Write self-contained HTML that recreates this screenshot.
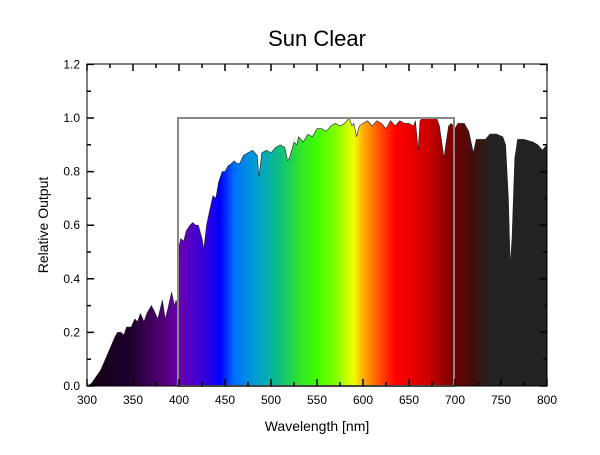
<!DOCTYPE html>
<html><head><style>body{margin:0;background:#fff}</style></head><body>
<svg width="600" height="450" xmlns="http://www.w3.org/2000/svg" font-family="Liberation Sans, Arial, sans-serif">
<defs>
<linearGradient id="g" gradientUnits="userSpaceOnUse" x1="87" y1="0" x2="547" y2="0">
<stop offset="0" stop-color="#100010"/>
<stop offset="0.1" stop-color="#200030"/>
<stop offset="0.16" stop-color="#500070"/>
<stop offset="0.2" stop-color="#6a00b0"/>
<stop offset="0.26" stop-color="#3000e0"/>
<stop offset="0.29" stop-color="#0000ff"/>
<stop offset="0.32" stop-color="#0070ff"/>
<stop offset="0.37" stop-color="#00a0d0"/>
<stop offset="0.42" stop-color="#10c080"/>
<stop offset="0.46" stop-color="#30e030"/>
<stop offset="0.5" stop-color="#40ff00"/>
<stop offset="0.54" stop-color="#80ff00"/>
<stop offset="0.58" stop-color="#f0ff00"/>
<stop offset="0.6" stop-color="#ffb000"/>
<stop offset="0.63" stop-color="#ff6000"/>
<stop offset="0.67" stop-color="#ff0000"/>
<stop offset="0.74" stop-color="#d00000"/>
<stop offset="0.8" stop-color="#700000"/>
<stop offset="0.84" stop-color="#401010"/>
<stop offset="0.88" stop-color="#222"/>
<stop offset="1" stop-color="#222"/>
</linearGradient>
</defs>
<text x="317" y="46" font-size="22" text-anchor="middle">Sun Clear</text>
<g id="spec"></g>
<rect x="178" y="118" width="276" height="268" fill="none" stroke="#888" stroke-width="2"/>
<rect x="87" y="64" width="460" height="322" fill="none" stroke="#000" stroke-width="1"/>
<g id="ticks" stroke="#000"></g>
<g font-size="12" text-anchor="end" id="yl"></g>
<g font-size="12" text-anchor="middle" id="xl"></g>
<text x="317" y="431" font-size="14" text-anchor="middle">Wavelength [nm]</text>
<text transform="translate(48,225) rotate(-90)" font-size="14" text-anchor="middle">Relative Output</text>
</svg>
<script>
var d=[[300,0],[305,0.01],[315,0.06],[320,0.1],[325,0.14],[330,0.18],[333,0.2],[337,0.2],[340,0.19],[343,0.22],[348,0.22],[352,0.25],[355,0.24],[358,0.27],[362,0.24],[365,0.27],[370,0.3],[373,0.28],[377,0.25],[382,0.32],[385,0.25],[388,0.29],[392,0.35],[395,0.3],[397,0.32],[399,0.28],[400,0.52],[402,0.55],[405,0.54],[408,0.58],[412,0.6],[415,0.61],[418,0.6],[421,0.6],[425,0.55],[427,0.51],[430,0.6],[433,0.65],[437,0.71],[440,0.7],[443,0.76],[447,0.8],[450,0.8],[453,0.82],[457,0.83],[460,0.84],[463,0.83],[466,0.83],[470,0.86],[475,0.87],[480,0.88],[485,0.86],[487,0.78],[490,0.87],[495,0.88],[500,0.87],[505,0.89],[510,0.9],[515,0.89],[518,0.84],[520,0.85],[525,0.91],[528,0.9],[530,0.93],[535,0.91],[540,0.94],[545,0.93],[550,0.96],[555,0.96],[560,0.95],[565,0.97],[570,0.98],[575,0.97],[580,0.98],[585,1.0],[588,0.97],[590,0.98],[593,0.93],[596,0.97],[600,0.98],[605,0.99],[610,0.97],[615,0.99],[620,0.98],[625,0.96],[630,0.99],[635,0.97],[640,0.99],[645,0.98],[650,0.98],[655,0.97],[657,0.99],[660,0.88],[662,0.99],[665,1.0],[680,1.0],[683,0.97],[686,0.9],[688,0.85],[690,0.9],[693,0.97],[696,0.98],[700,0.96],[703,0.98],[710,0.98],[715,0.95],[718,0.9],[720,0.87],[723,0.92],[728,0.92],[733,0.92],[738,0.94],[745,0.94],[752,0.93],[755,0.9],[758,0.7],[760,0.45],[762,0.55],[765,0.85],[768,0.92],[775,0.92],[785,0.91],[790,0.9],[795,0.88],[800,0.9]];
function X(n){return 87+(n-300)*0.92}function Y(v){return 386-v*268}
var p="M87,386 "+d.map(function(a){return "L"+X(a[0]).toFixed(1)+","+Y(a[1]).toFixed(1)}).join(" ")+" L547,386Z";
var ns="http://www.w3.org/2000/svg";
var e=document.createElementNS(ns,"path");e.setAttribute("d",p);e.setAttribute("fill","url(#g)");e.setAttribute("stroke","#222");e.setAttribute("stroke-width","0.6");
document.getElementById("spec").appendChild(e);
var t="";for(var i=0;i<=12;i++){var y=Y(i*0.1),l=i%2?4:7;t+="M87,"+y+"h"+l+"M547,"+y+"h-"+l;}
for(var n=300;n<=800;n+=25){var x=X(n),l=n%50?4:7;t+="M"+x+",386v-"+l+"M"+x+",64v"+l;}
var tk=document.createElementNS(ns,"path");tk.setAttribute("d",t);tk.setAttribute("stroke","#000");tk.setAttribute("stroke-width","1.5");document.getElementById("ticks").appendChild(tk);
var yl=document.getElementById("yl"),xl=document.getElementById("xl");
for(var i=0;i<=6;i++){var s=document.createElementNS(ns,"text");s.setAttribute("x",80);s.setAttribute("y",Y(i*0.2)+4);s.textContent=(i*0.2).toFixed(1);yl.appendChild(s);}
for(var n=300;n<=800;n+=50){var s=document.createElementNS(ns,"text");s.setAttribute("x",X(n));s.setAttribute("y",404);s.textContent=n;xl.appendChild(s);}
</script>
</body></html>
